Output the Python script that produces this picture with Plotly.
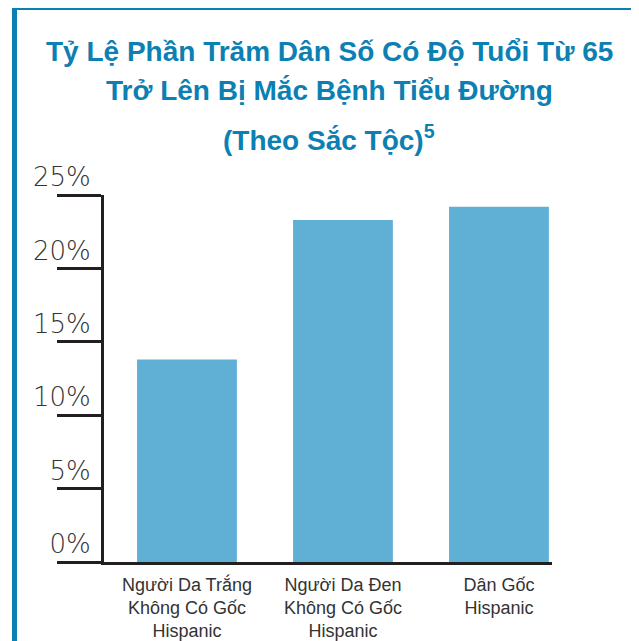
import plotly.graph_objects as go

categories = ["Người Da Trắng<br>Không Có Gốc<br>Hispanic",
              "Người Da Đen<br>Không Có Gốc<br>Hispanic",
              "Dân Gốc<br>Hispanic"]
values = [13.8, 23.3, 24.2]
tick_vals = [0, 5, 10, 15, 20, 25]
tick_text = ["0%", "5%", "10%", "15%", "20%", "25%"]
title_lines = ["Tỷ Lệ Phần Trăm Dân Số Có Độ Tuổi Từ 65",
               "Trở Lên Bị Mắc Bệnh Tiểu Đường",
               "(Theo Sắc Tộc)<sup>5</sup>"]

OFF = 8  # page body margin
W, H = 631, 633
L, R, T, B = 104 - OFF, 552 - OFF, 195 - OFF, 562 - OFF

def px_x(px):
    return (px - OFF - L) / (R - L)

def px_y(py):
    return (B - (py - OFF)) / (B - T)

BLUE = "#0c80b3"
DARK = "#231f20"

fig = go.Figure(go.Bar(
    x=list(range(len(categories))), y=values,
    marker=dict(color="#60b0d6", line=dict(width=0)),
    width=0.64,
))

fig.update_layout(
    width=W, height=H,
    margin=dict(l=L, r=W - R, t=T, b=H - B),
    paper_bgcolor="white", plot_bgcolor="white",
    showlegend=False,
    xaxis=dict(
        range=[-0.532, 2.34],
        tickvals=list(range(len(categories))), ticktext=categories,
        showline=True, linecolor=DARK, linewidth=3,
        showgrid=False, zeroline=False, ticks="",
        ticklabelstandoff=4, automargin=False,
        tickfont=dict(family="Liberation Sans, Arial, sans-serif", size=18, color="#333333"),
        fixedrange=True,
    ),
    yaxis=dict(
        range=[0, 25],
        tickvals=tick_vals, ticktext=tick_text,
        showline=True, linecolor=DARK, linewidth=3,
        showgrid=False, zeroline=False,
        ticks="outside", ticklen=44, tickwidth=3, tickcolor=DARK,
        ticklabelshift=-18, ticklabelstandoff=-39, automargin=False,
        tickfont=dict(family="DejaVu Sans", weight=200, size=26, color="#333333"),
        fixedrange=True,
    ),
)

title_y_px = [52, 90, 138]
for txt, py in zip(title_lines, title_y_px):
    fig.add_annotation(
        text=txt, xref="paper", yref="paper",
        x=px_x(329), y=px_y(py), xanchor="center", yanchor="middle",
        showarrow=False,
        font=dict(family="Liberation Sans, Arial, sans-serif", size=28, color=BLUE, weight="bold"),
    )

fig.add_shape(
    type="rect", xref="paper", yref="paper",
    x0=px_x(14.5), x1=px_x(636.5), y0=px_y(690), y1=px_y(7.5),
    line=dict(color=BLUE, width=5), fillcolor="rgba(0,0,0,0)", layer="below",
)

fig.write_html("out.html")
